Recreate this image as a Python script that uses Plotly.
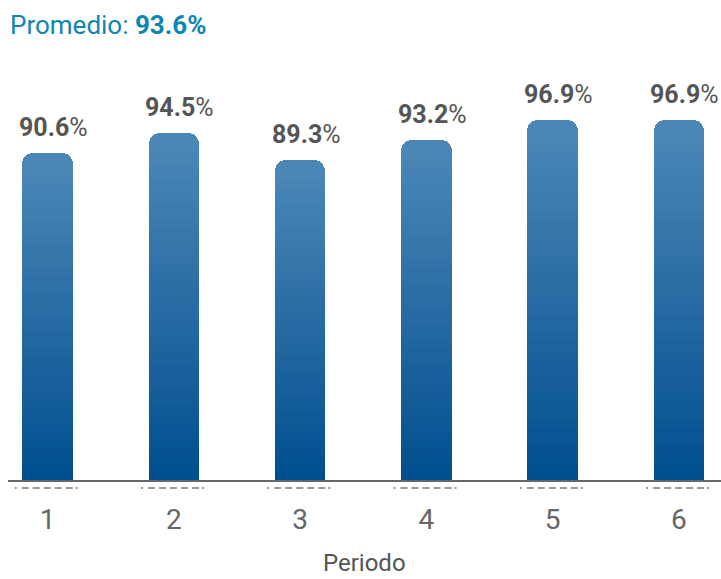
import plotly.graph_objects as go

periods = ["1", "2", "3", "4", "5", "6"]
values = [90.6, 94.5, 89.3, 93.2, 96.9, 96.9]
average = 93.6

Y0 = 28.7            # axis floor (bars start here)
TOP = (74, 134, 182)   # light steel blue at the bar top
BOTTOM = (1, 79, 143)  # dark blue at the bar bottom
N = 40

x = list(range(len(periods)))
fig = go.Figure()

# full bar with rounded top in the top colour
fig.add_trace(go.Bar(
    x=x, y=[v - Y0 for v in values], base=[Y0] * len(values),
    width=0.40, marker=dict(color="rgb(%d,%d,%d)" % TOP, cornerradius=11, line=dict(width=0)),
    hoverinfo="skip",
))

# gradient slices under the rounded cap
for k in range(N):
    t = k / (N - 1)
    col = tuple(round(BOTTOM[j] + (TOP[j] - BOTTOM[j]) * t) for j in range(3))
    span = [(v - 2.5 - Y0) for v in values]
    bases = [Y0 + s * k / N for s in span]
    heights = [s / N * 1.3 for s in span]
    fig.add_trace(go.Bar(
        x=x, y=heights, base=bases, width=0.40,
        marker=dict(color="rgb(%d,%d,%d)" % col, line=dict(width=0)),
        hoverinfo="skip",
    ))

annotations = []
for i, v in enumerate(values):
    annotations.append(dict(
        x=i, y=v, xref="x", yref="y", text="<b>%.1f</b>%%" % v,
        showarrow=False, yanchor="bottom", yshift=9, xshift=6,
        font=dict(family="Roboto", size=25, color="#555555"),
    ))

annotations.append(dict(
    x=0, y=1.0, xref="paper", yref="paper", xanchor="left", yanchor="middle",
    yshift=35, xshift=0,
    text="Promedio: <b>%.1f%%</b>" % average, showarrow=False,
    font=dict(family="Roboto", size=26, color="#0d86b2"),
))
annotations.append(dict(
    x=0.5, y=0, xref="paper", yref="paper", yanchor="middle", yshift=-83,
    text="Periodo", showarrow=False,
    font=dict(family="Roboto", size=24, color="#555555"),
))

shapes = []
for i in x:
    shapes.append(dict(
        type="line", xref="x", yref="paper", x0=i - 0.26, x1=i + 0.26,
        y0=-0.019, y1=-0.019,
        line=dict(color="#9a9a9a", width=2,
                  dash="2px,5px,7px,4px,7px,4px,7px,4px,7px,4px,7px,3px,2px,20px"),
    ))

fig.update_layout(
    width=721, height=579,
    margin=dict(l=8, r=0, t=60, b=99),
    paper_bgcolor="white", plot_bgcolor="white",
    barmode="overlay", bargap=0,
    showlegend=False,
    annotations=annotations,
    shapes=shapes,
    xaxis=dict(
        range=[-0.313, 5.333], tickvals=x, ticktext=periods,
        showgrid=False, zeroline=False,
        showline=True, linecolor="#666666", linewidth=2,
        ticks="outside", ticklen=13, tickcolor="rgba(0,0,0,0)",
        tickfont=dict(family="Roboto", size=28, color="#666666"),
        fixedrange=True,
    ),
    yaxis=dict(
        range=[Y0, Y0 + 421 / 5.29], visible=False, fixedrange=True,
    ),
)

fig.write_html("out.html", config={"displayModeBar": False},
               post_script="document.body.style.margin='0px';")
